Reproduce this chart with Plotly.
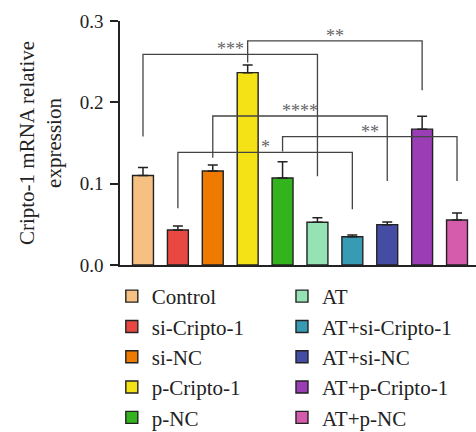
import plotly.graph_objects as go

categories = ["Control", "si-Cripto-1", "si-NC", "p-Cripto-1", "p-NC",
              "AT", "AT+si-Cripto-1", "AT+si-NC", "AT+p-Cripto-1", "AT+p-NC"]
means = [0.110, 0.043, 0.1155, 0.2365, 0.107, 0.0525, 0.0348, 0.0496, 0.167, 0.0553]
errors = [0.010, 0.005, 0.0075, 0.0095, 0.020, 0.0055, 0.0022, 0.0034, 0.016, 0.0087]
colors = ["#F7C083", "#E84841", "#EF7A00", "#F4E216", "#33B41E",
          "#95E3B4", "#379BB4", "#444CA3", "#9B3DB5", "#D55BAD"]

# significance brackets: (left index, right index, top, left leg bottom, right leg bottom, label)
brackets = [
    (0, 5, 0.259, 0.158, 0.109, "***"),
    (3, 8, 0.2755, 0.249, 0.215, "**"),
    (2, 7, 0.1832, 0.132, 0.1033, "****"),
    (4, 9, 0.1578, 0.1394, 0.1033, "**"),
    (1, 6, 0.1385, 0.0697, 0.0685, "*"),
]

serif = "Liberation Serif"
fig = go.Figure()

for i, (cat, m, e, c) in enumerate(zip(categories, means, errors, colors)):
    fig.add_trace(go.Bar(
        x=[i], y=[m], name=cat, width=0.6,
        marker=dict(color=c, line=dict(color="#222222", width=1.4)),
        error_y=dict(type="data", symmetric=False, array=[e], arrayminus=[0],
                     color="#222222", thickness=1.5, width=5),
        legend="legend" if i < 5 else "legend2",
        legendgroup=cat,
    ))

for (a, b, top, la, lb, lab) in brackets:
    fig.add_trace(go.Scatter(
        x=[a, a, b, b], y=[la, top, top, lb], mode="lines",
        line=dict(color="#444444", width=1.3), showlegend=False, hoverinfo="skip",
    ))
    fig.add_annotation(x=(a + b) / 2, y=top, text=lab, showarrow=False,
                       xref="x", yref="y", yanchor="bottom", yshift=-7,
                       font=dict(family=serif, size=18, color="#666666"))

leg_font = dict(family=serif, size=21, color="#222222")
fig.update_layout(
    width=476, height=432,
    margin=dict(l=120, r=0, t=21, b=167, autoexpand=False),
    plot_bgcolor="white", paper_bgcolor="white",
    barmode="overlay",
    font=dict(family=serif, size=18, color="#222222"),
    xaxis=dict(range=[-0.659, 9.544], showline=True, linecolor="#222222", linewidth=1.5,
               showticklabels=False, ticks="", showgrid=False, zeroline=False),
    yaxis=dict(range=[0, 0.3], showline=True, linecolor="#222222", linewidth=1.5,
               tickvals=[0, 0.1, 0.2, 0.3], ticktext=["0.0", "0.1", "0.2", "0.3"],
               ticks="outside", ticklen=8, tickwidth=1.5, tickcolor="#222222",
               ticklabelstandoff=3,
               tickfont=dict(family=serif, size=19, color="#222222"),
               showgrid=False, zeroline=False,
               title=dict(text="Cripto-1 mRNA relative<br>expression",
                          font=dict(family=serif, size=21, color="#222222"), standoff=12)),
    legend=dict(x=-0.023, y=-0.045, xanchor="left", yanchor="top", orientation="v",
                font=leg_font, tracegroupgap=0, bgcolor="rgba(0,0,0,0)"),
    legend2=dict(x=0.455, y=-0.045, xanchor="left", yanchor="top", orientation="v",
                 font=leg_font, tracegroupgap=0, bgcolor="rgba(0,0,0,0)"),
)

fig.write_html("out.html")
